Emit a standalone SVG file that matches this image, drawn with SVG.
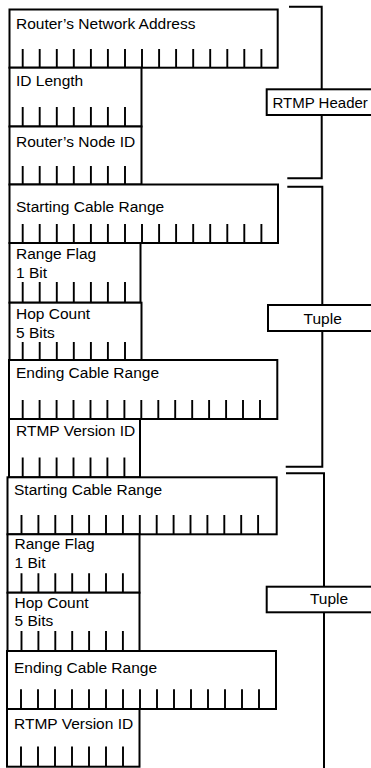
<svg xmlns="http://www.w3.org/2000/svg" width="371" height="768" viewBox="0 0 371 768">
<style>
  .box { fill: #fff; stroke: #000; stroke-width: 2; }
  .tick { fill: none; stroke: #000; stroke-width: 1.9; }
  .br { fill: none; stroke: #000; stroke-width: 2; }
  .lbl { fill: #fff; stroke: #000; stroke-width: 2; }
  text { font-family: "Liberation Sans", Arial, sans-serif; font-size: 15.5px; fill: #000; }
  .mid { text-anchor: middle; }
</style>
<rect width="371" height="768" fill="#fff"/>

<g id="connectors">
  <path class="br" d="M289,6.7 H321.7 V178.3 H287.3"/>
  <path class="br" d="M287.3,186.7 H322.3 V466.7 H285.7"/>
  <path class="br" d="M286,473.3 H324 V768"/>
</g>

<g id="router-network-address">
  <rect class="box" x="9.5" y="9.5" width="268.2" height="58.2"/>
  <text x="16" y="29.3">Router’s Network Address</text>
  <path class="tick" d="M22.7,49V67.7M39.7,49V67.7M56.8,49V67.7M73.8,49V67.7M90.9,49V67.7M107.9,49V67.7M125,49V67.7M142,49V67.7M159.1,49V67.7M176.1,49V67.7M193.2,49V67.7M210.2,49V67.7M227.3,49V67.7M244.3,49V67.7M261.4,49V67.7"/>
</g>
<g id="id-length">
  <rect class="box" x="9.5" y="67.7" width="132" height="58.8"/>
  <text x="16" y="85.5">ID Length</text>
  <path class="tick" d="M22.7,107V126.5M39.7,107V126.5M56.8,107V126.5M73.8,107V126.5M90.9,107V126.5M107.9,107V126.5M125,107V126.5"/>
</g>
<g id="router-node-id">
  <rect class="box" x="9.5" y="126.5" width="132" height="58"/>
  <text x="16" y="146.6">Router’s Node ID</text>
  <path class="tick" d="M22.7,166V184.5M39.7,166V184.5M56.8,166V184.5M73.8,166V184.5M90.9,166V184.5M107.9,166V184.5M125,166V184.5"/>
</g>

<g id="starting-cable-range-1">
  <rect class="box" x="9.5" y="184.5" width="268.5" height="58.5"/>
  <text x="16" y="212.3">Starting Cable Range</text>
  <path class="tick" d="M22.7,224V243M39.7,224V243M56.8,224V243M73.8,224V243M90.9,224V243M107.9,224V243M125,224V243M142,224V243M159.1,224V243M176.1,224V243M193.2,224V243M210.2,224V243M227.3,224V243M244.3,224V243M261.4,224V243"/>
</g>
<g id="range-flag-1">
  <rect class="box" x="9.5" y="243" width="131" height="59.7"/>
  <text x="16" y="258.5">Range Flag</text>
  <text x="16" y="277.5">1 Bit</text>
  <path class="tick" d="M22.7,282V302.7M39.7,282V302.7M56.8,282V302.7M73.8,282V302.7M90.9,282V302.7M107.9,282V302.7M125,282V302.7"/>
</g>
<g id="hop-count-1">
  <rect class="box" x="9.5" y="302.7" width="132" height="57.3"/>
  <text x="16" y="318.5">Hop Count</text>
  <text x="16" y="337.5">5 Bits</text>
  <path class="tick" d="M22.7,342V360M39.7,342V360M56.8,342V360M73.8,342V360M90.9,342V360M107.9,342V360M125,342V360"/>
</g>
<g id="ending-cable-range-1">
  <rect class="box" x="9" y="360" width="268.3" height="59"/>
  <text x="16" y="377.5">Ending Cable Range</text>
  <path class="tick" d="M22.7,400V419M39.6,400V419M56.6,400V419M73.5,400V419M90.5,400V419M107.4,400V419M124.4,400V419M141.3,400V419M158.3,400V419M175.2,400V419M192.2,400V419M209.1,400V419M226.1,400V419M243,400V419M260,400V419"/>
</g>
<g id="rtmp-version-id-1">
  <rect class="box" x="9" y="419" width="131" height="58.3"/>
  <text x="16" y="436">RTMP Version ID</text>
  <path class="tick" d="M22.7,457.5V477.3M39.6,457.5V477.3M56.6,457.5V477.3M73.5,457.5V477.3M90.5,457.5V477.3M107.4,457.5V477.3M124.4,457.5V477.3"/>
</g>

<g id="starting-cable-range-2">
  <rect class="box" x="7.5" y="477.3" width="269.2" height="57"/>
  <text x="14" y="495">Starting Cable Range</text>
  <path class="tick" d="M21.5,515V534.3M38.4,515V534.3M55.3,515V534.3M72.2,515V534.3M89.1,515V534.3M106,515V534.3M122.9,515V534.3M139.8,515V534.3M156.7,515V534.3M173.6,515V534.3M190.5,515V534.3M207.4,515V534.3M224.3,515V534.3M241.2,515V534.3M258.1,515V534.3"/>
</g>
<g id="range-flag-2">
  <rect class="box" x="7.5" y="534.3" width="132" height="58.4"/>
  <text x="14.5" y="549">Range Flag</text>
  <text x="14.5" y="567.7">1 Bit</text>
  <path class="tick" d="M21.5,573.3V592.7M38.4,573.3V592.7M55.3,573.3V592.7M72.2,573.3V592.7M89.1,573.3V592.7M106,573.3V592.7M122.9,573.3V592.7"/>
</g>
<g id="hop-count-2">
  <rect class="box" x="7.5" y="592.7" width="132" height="58.3"/>
  <text x="14.5" y="608.3">Hop Count</text>
  <text x="14.5" y="626">5 Bits</text>
  <path class="tick" d="M21.5,631V651M38.4,631V651M55.3,631V651M72.2,631V651M89.1,631V651M106,631V651M122.9,631V651"/>
</g>
<g id="ending-cable-range-2">
  <rect class="box" x="7" y="651" width="269" height="58"/>
  <text x="14" y="672.7">Ending Cable Range</text>
  <path class="tick" d="M21,689.3V709M38,689.3V709M55,689.3V709M72,689.3V709M89,689.3V709M106,689.3V709M123,689.3V709M140,689.3V709M157,689.3V709M174,689.3V709M191,689.3V709M208,689.3V709M225,689.3V709M242,689.3V709M259,689.3V709"/>
</g>
<g id="rtmp-version-id-2">
  <rect class="box" x="7" y="709" width="132.5" height="57.7"/>
  <text x="14" y="729.3">RTMP Version ID</text>
  <path class="tick" d="M21,746.5V766.7M38,746.5V766.7M55,746.5V766.7M72,746.5V766.7M89,746.5V766.7M106,746.5V766.7M123,746.5V766.7"/>
</g>

<g id="label-rtmp-header">
  <rect class="lbl" x="266.7" y="89.3" width="120" height="25.7"/>
  <text x="272.5" y="108.3" style="font-size:15px">RTMP Header</text>
</g>
<g id="label-tuple-1">
  <rect class="lbl" x="268" y="305" width="109.4" height="26"/>
  <text class="mid" x="322.7" y="324.3">Tuple</text>
</g>
<g id="label-tuple-2">
  <rect class="lbl" x="266.7" y="586.7" width="124.4" height="25.6"/>
  <text class="mid" x="329" y="604.3">Tuple</text>
</g>
</svg>
